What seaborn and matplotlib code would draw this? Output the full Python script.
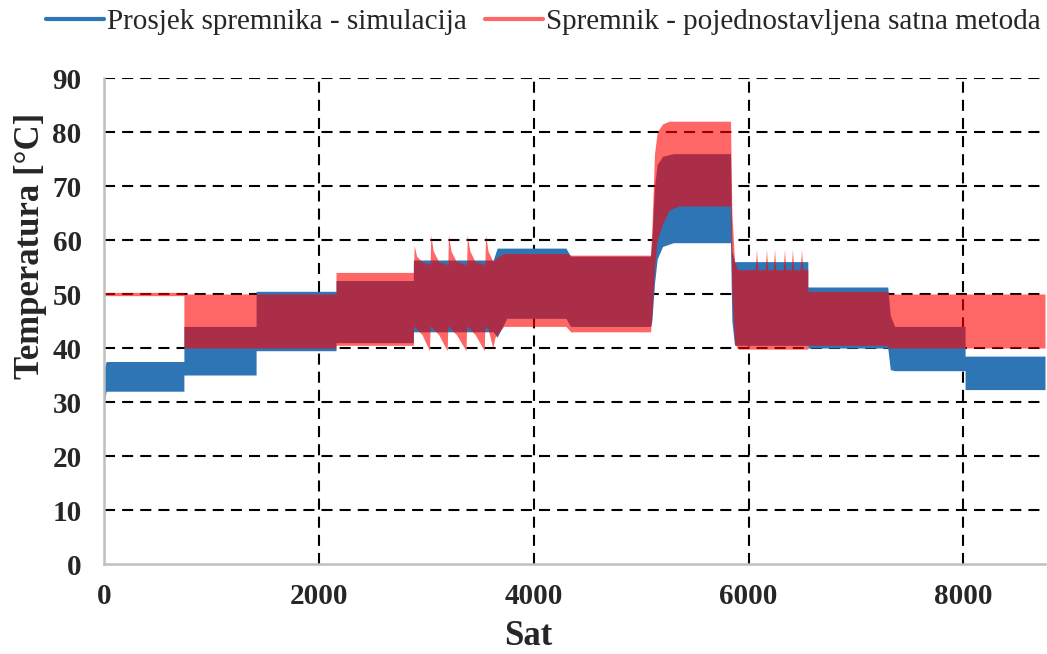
import matplotlib
matplotlib.use("Agg")
import matplotlib.pyplot as plt
from matplotlib.lines import Line2D
import seaborn as sns
import pandas as pd

# %% data (hour of year, band bottom, band top)
blue_t = [0, 20, 744, 744, 1416, 1416, 2160, 2160, 2880, 2880, 3624, 3660, 3750,
          4300, 4344, 5088, 5100, 5125, 5150, 5200, 5300, 5832, 5845, 5870,
          6552, 6552, 7296, 7320, 7360, 8016, 8016, 8760]
blue_lo = [29.5, 32, 32, 35, 35, 39.5, 39.5, 41, 41, 43, 43, 42, 45.5,
           45.5, 44, 44, 45, 52, 56.5, 58.8, 59.5, 59.5, 45, 40.5,
           40.5, 40, 40, 36, 35.8, 35.8, 32.3, 32.3]
blue_hi = [36, 37.5, 37.5, 44, 44, 50.5, 50.5, 52.5, 52.5, 56.3, 56.3, 58.5, 58.5,
           58.5, 57, 57, 60, 70, 74, 75.5, 76, 76, 58, 56,
           56, 51.3, 51.3, 46, 44, 44, 38.5, 38.5]

red_t = [0, 744, 744, 2160, 2160, 2880,
         2882, 2888, 2910, 2960, 3030,
         3036, 3042, 3065, 3115, 3195,
         3201, 3207, 3230, 3280, 3370,
         3376, 3382, 3405, 3455, 3540,
         3546, 3552, 3575, 3620, 3640, 3720, 4300, 4344, 5088,
         5100, 5125, 5150, 5200, 5260, 5350, 5832, 5845, 5870, 5900,
         6062, 6074, 6086, 6155, 6167, 6179, 6230, 6242, 6254,
         6323, 6335, 6347, 6397, 6409, 6421, 6481, 6493, 6505,
         6552, 6552, 7296, 7296, 8760]
red_lo = [49.7, 49.7, 40, 40, 40.5, 40.5,
          44, 44, 43.5, 42.5, 39.5,
          44, 44, 43.5, 42.5, 39.5,
          44, 44, 43.5, 42.5, 39.5,
          44, 44, 43.5, 42.5, 39.5,
          44, 44, 43.5, 40, 42, 44, 44, 43, 43,
          46, 55, 60, 63, 65.5, 66.3, 66.3, 50, 41, 39.8,
          39.8, 39.8, 39.8, 39.8, 39.8, 39.8, 39.8, 39.8, 39.8,
          39.8, 39.8, 39.8, 39.8, 39.8, 39.8, 39.8, 39.8, 39.8,
          39.8, 40.5, 40.5, 40, 40]
red_hi = [50.3, 50.3, 50, 50, 54, 54,
          55.5, 59, 57, 56, 55.5,
          55.5, 61, 58, 56, 55.5,
          55.5, 61, 58, 56, 55.5,
          55.5, 61, 58, 56, 55.5,
          55.5, 61, 58, 56, 56.5, 57.5, 57.5, 57.2, 57.2,
          62, 76, 80, 81.5, 82, 82, 82, 65, 56, 54.5,
          54.5, 58.3, 54.5, 54.5, 58.3, 54.5, 54.5, 58.3, 54.5,
          54.5, 58.3, 54.5, 54.5, 58.3, 54.5, 54.5, 58.3, 54.5,
          54.5, 50.5, 50.5, 50, 50]

x_ticks = [0, 2000, 4000, 6000, 8000]
y_ticks = [0, 10, 20, 30, 40, 50, 60, 70, 80, 90]

labels = ["Prosjek spremnika - simulacija", "Spremnik - pojednostavljena satna metoda"]
blue = "#2E75B6"
red = "#FF0000"

sim = pd.DataFrame({"Sat": blue_t, "lo": blue_lo, "hi": blue_hi})
simple = pd.DataFrame({"Sat": red_t, "lo": red_lo, "hi": red_hi})

# %% style
sns.set_style("white")
plt.rcParams["font.family"] = ["Liberation Serif", "DejaVu Serif"]

fig = plt.figure(figsize=(10.47, 6.54), dpi=100)
ax = fig.add_axes([0.0993, 0.1376, 0.8988, 0.7431])

ax.fill_between(sim["Sat"], sim["lo"], sim["hi"], color=blue, linewidth=0, zorder=1)
ax.fill_between(simple["Sat"], simple["lo"], simple["hi"], color=red, alpha=0.6,
                linewidth=0, zorder=1.1)

ax.set_xlim(0, 8760)
ax.set_ylim(0, 90)
ax.set_xticks(x_ticks)
ax.set_yticks(y_ticks)
ax.set_axisbelow(True)
ax.grid(True, color="black", linestyle=(0, (5.3, 3.4)), linewidth=1.5)
# no dashed line on top of the axis lines
ax.xaxis.get_gridlines()[0].set_visible(False)
ax.yaxis.get_gridlines()[0].set_visible(False)

for side in ["top", "right"]:
    ax.spines[side].set_visible(False)
for side in ["left", "bottom"]:
    ax.spines[side].set_color("#BFBFBF")
    ax.spines[side].set_linewidth(1.8)
    ax.spines[side].set_zorder(3)

ax.tick_params(axis="y", length=0, pad=16, labelsize=21)
ax.tick_params(axis="x", length=0, pad=14, labelsize=21)
for lab in ax.get_xticklabels() + ax.get_yticklabels():
    lab.set_fontweight("bold")

ax.set_xlabel("Sat", fontsize=25, fontweight="bold")
ax.xaxis.label.set_va("center")
ax.xaxis.set_label_coords(0.4506, -0.150)
ax.set_ylabel("Temperatura [°C]", fontsize=25, fontweight="bold")
ax.yaxis.label.set_va("center")
ax.yaxis.set_label_coords(-0.0786, 0.654)

handles = [Line2D([], [], color=blue, lw=3),
           Line2D([], [], color="#FF6666", lw=3)]
fig.legend(handles, labels, loc="center", bbox_to_anchor=(0.519, 0.966), ncol=2,
           frameon=False, fontsize=21, handlelength=2.0, handletextpad=0.1,
           columnspacing=0.6)

fig.savefig("out.png", dpi=100)
